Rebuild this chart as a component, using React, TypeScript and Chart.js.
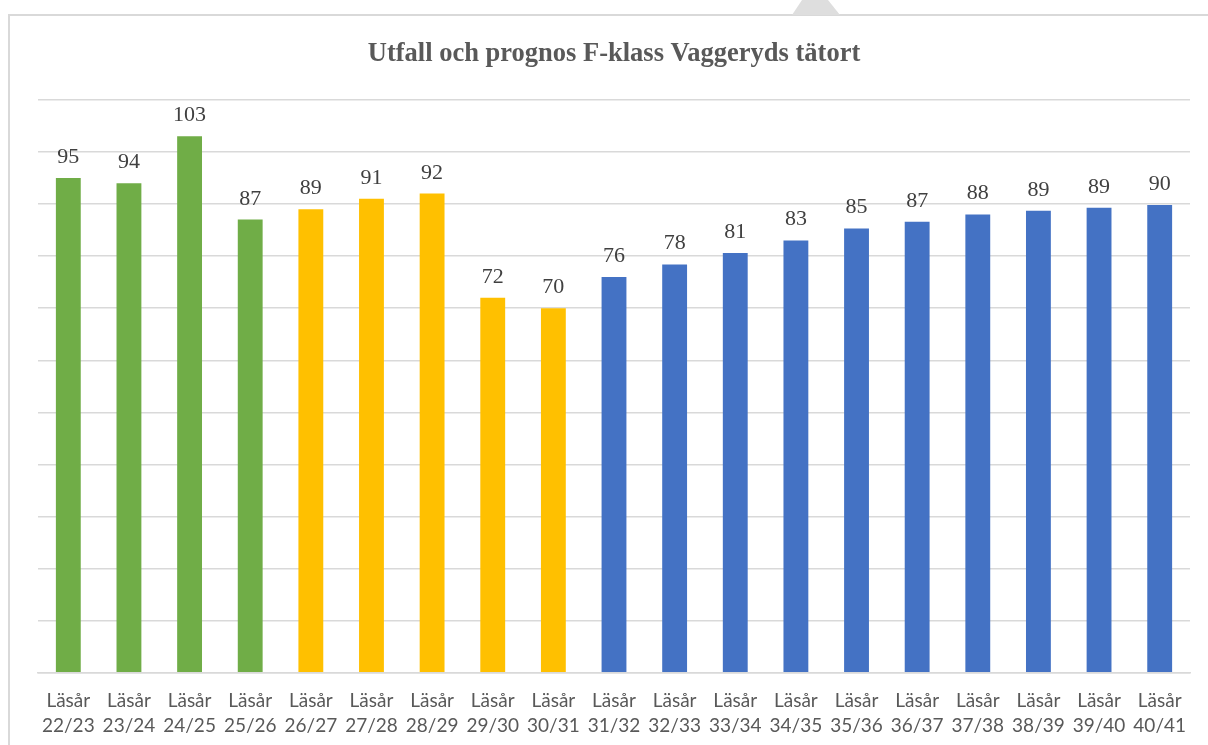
import React, { useEffect, useRef } from "react";
import { Chart, registerables } from "chart.js";

Chart.register(...registerables);

const titleText = "Utfall och prognos F-klass Vaggeryds tätort";
const yearLabels = [
  "22/23", "23/24", "24/25", "25/26", "26/27", "27/28", "28/29", "29/30", "30/31",
  "31/32", "32/33", "33/34", "34/35", "35/36", "36/37", "37/38", "38/39", "39/40", "40/41",
];
const values = [95, 94, 103, 87, 89, 91, 92, 72, 70, 76, 78.4, 80.6, 83, 85.3, 86.6, 88, 88.7, 89.3, 89.8];
const groups = [
  "utfall", "utfall", "utfall", "utfall",
  "kand", "kand", "kand", "kand", "kand",
  "prognos", "prognos", "prognos", "prognos", "prognos", "prognos", "prognos", "prognos", "prognos", "prognos",
];
const groupColors: Record<string, string> = {
  utfall: "#70AD47",
  kand: "#FFC000",
  prognos: "#4472C4",
};
const yMax = 110;
const yStep = 10;

const valueLabelPlugin = {
  id: "valueLabels",
  afterDatasetsDraw(chart: any) {
    const ctx = chart.ctx;
    const meta = chart.getDatasetMeta(0);
    ctx.save();
    ctx.font = "22px 'Liberation Serif', 'Times New Roman', serif";
    ctx.fillStyle = "#404040";
    ctx.textAlign = "center";
    ctx.textBaseline = "alphabetic";
    meta.data.forEach((bar: any, i: number) => {
      const v = chart.data.datasets[0].data[i] as number;
      ctx.fillText(String(Math.round(v)), bar.x, bar.y - 15);
    });
    ctx.restore();
  },
};

export default function App() {
  const canvasRef = useRef<HTMLCanvasElement | null>(null);

  useEffect(() => {
    if (!canvasRef.current) return;
    const chart = new Chart(canvasRef.current, {
      type: "bar",
      data: {
        labels: yearLabels.map((y) => ["Läsår", y]),
        datasets: [
          {
            data: values,
            backgroundColor: groups.map((g) => groupColors[g]),
            categoryPercentage: 1,
            barPercentage: 0.41,
          },
        ],
      },
      options: {
        animation: false,
        responsive: false,
        maintainAspectRatio: false,
        layout: { padding: { left: 38, right: 18, top: 0, bottom: 0 } },
        plugins: {
          legend: { display: false },
          tooltip: { enabled: false },
          title: {
            display: true,
            text: titleText,
            color: "#595959",
            font: { family: "'Liberation Serif', 'Times New Roman', serif", size: 26.5, weight: "bold" },
            padding: { top: 38, bottom: 30 },
          },
        },
        scales: {
          y: {
            min: 0,
            max: yMax,
            ticks: { display: false, stepSize: yStep },
            grid: { color: "#d9d9d9", lineWidth: 1.5, drawTicks: false },
            border: { display: false },
          },
          x: {
            grid: { display: false, drawTicks: false },
            border: { color: "#d9d9d9", width: 1.5 },
            ticks: {
              color: "#595959",
              font: { family: "Lato, 'Liberation Sans', sans-serif", size: 19, lineHeight: 1.32 },
              padding: 15,
              autoSkip: false,
              maxRotation: 0,
              minRotation: 0,
            },
          },
        },
      },
      plugins: [valueLabelPlugin],
    });
    return () => chart.destroy();
  }, []);

  return (
    <div style={{ position: "fixed", left: 0, top: 0, width: 1208, height: 745, background: "#fff", overflow: "hidden" }}>
      <div
        style={{
          position: "absolute",
          left: 8,
          top: 14,
          width: 1300,
          height: 800,
          borderLeft: "2px solid #d9d9d9",
          borderTop: "2px solid #d9d9d9",
        }}
      />
      <div
        style={{
          position: "absolute",
          left: 792,
          top: 0,
          width: 48,
          height: 15,
          background: "#dedede",
          clipPath: "polygon(10px 0, 36px 0, 48px 15px, 0 15px)",
        }}
      />
      <canvas ref={canvasRef} width={1208} height={753} style={{ position: "absolute", left: 0, top: 0 }} />
    </div>
  );
}
